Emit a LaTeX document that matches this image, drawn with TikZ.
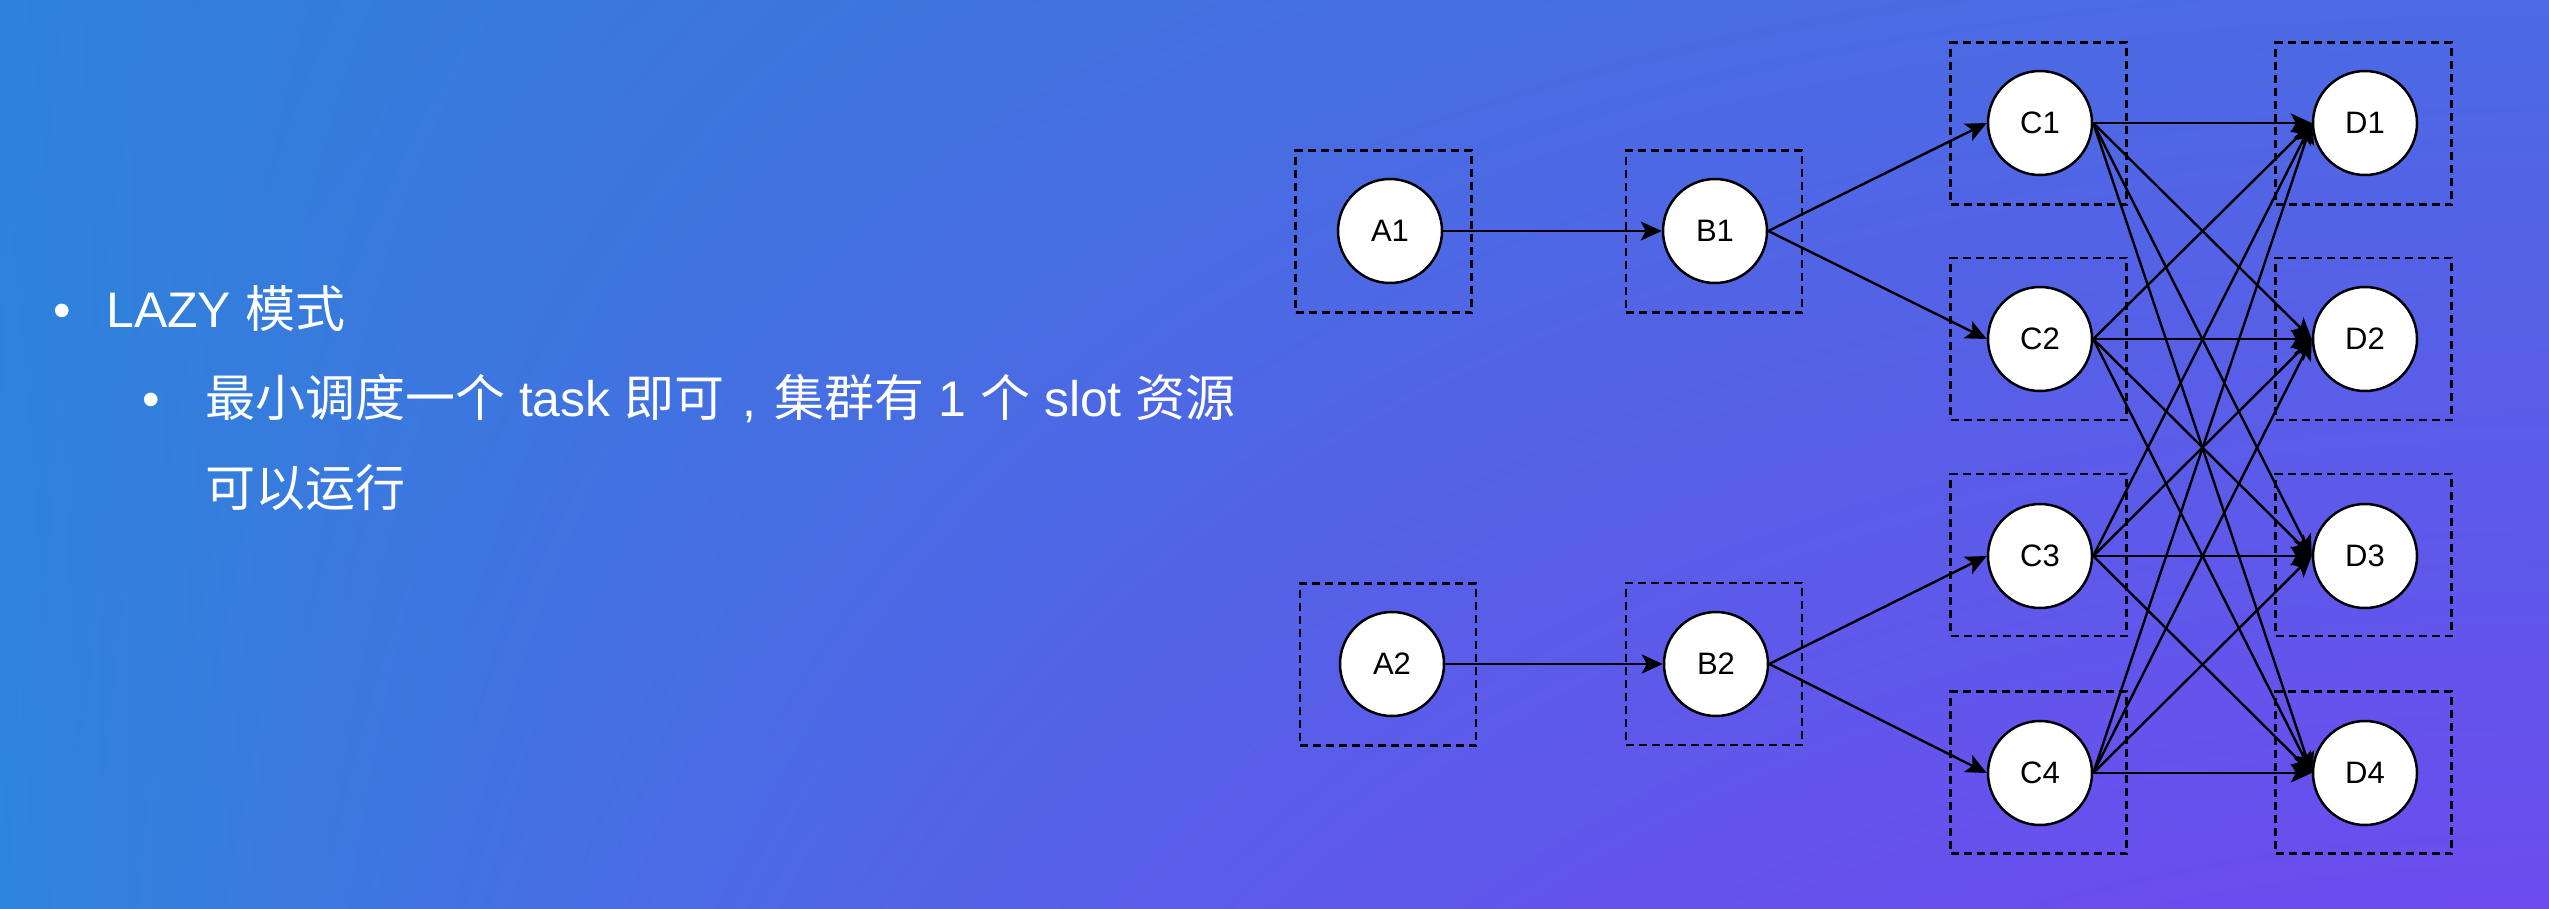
\documentclass[tikz,border=0pt]{standalone}
\usepackage{fontspec}
\setmainfont{Liberation Sans}
\newfontfamily\cjk{Noto Sans CJK SC}
\usetikzlibrary{arrows.meta}

\pgfdeclarefunctionalshading{bgshade}{\pgfpointorigin}{\pgfpoint{100bp}{100bp}}{}{
25 sub 50 div exch 25 sub 50 div
dup 2 exch sub mul
1 index 1 index -32 mul -1 add mul 1 index 62 mul add 46 add 255 div 3 1 roll
1 index 1 index 33 mul -3 add mul 1 index -57 mul add 133 add 255 div 3 1 roll
1 index 1 index -9 mul -3 add mul 1 index 19 mul add 220 add 255 div 3 1 roll
pop pop
}

\tikzset{
  task/.style={circle, draw=black, line width=2.5pt, fill=white, minimum size=104pt,
    inner sep=0pt, font=\fontsize{31}{33}\selectfont},
  slotbox/.style={draw=black, line width=2.5pt, dash pattern=on 8pt off 5pt,
    minimum width=176pt, minimum height=162pt, inner sep=0pt},
  edge/.style={line width=2.4pt, -{Stealth[length=21pt,width=19pt,inset=5pt]}},
  txt/.style={text=white, anchor=base west, inner sep=0pt, font=\fontsize{50}{60}\selectfont},
  bul/.style={text=white, anchor=base, inner sep=0pt, font=\fontsize{50}{60}\selectfont},
}

\begin{document}
\begin{tikzpicture}[x=1pt,y=-1pt]
\useasboundingbox (0,0) rectangle (2549,908);
\shade[shading=bgshade] (0,0) rectangle (2549,908);

% text
\node[bul] (b1) at (62,327) {•};
\node[txt] (t1) at (106,327) {LAZY {\cjk 模式}};
\node[bul] (b2) at (151,416) {•};
\node[txt] (t2) at (205,416) {{\cjk 最小调度一个} task {\cjk 即可}\hspace{0.36em},\hspace{0.36em}{\cjk 集群有} 1 {\cjk 个} slot {\cjk 资源}};
\node[txt] (t3) at (205,506) {{\cjk 可以运行}};

% slot boxes
\node[slotbox] (sA1) at (1383.5,231.5) {};
\node[slotbox] (sA2) at (1388,664.5) {};
\node[slotbox] (sB1) at (1714,231.5) {};
\node[slotbox] (sB2) at (1714,664) {};
\node[slotbox] (sC1) at (2038.5,123.5) {};
\node[slotbox] (sC2) at (2038.5,339) {};
\node[slotbox] (sC3) at (2038.5,555) {};
\node[slotbox] (sC4) at (2038.5,772.5) {};
\node[slotbox] (sD1) at (2363.5,123.5) {};
\node[slotbox] (sD2) at (2363.5,339) {};
\node[slotbox] (sD3) at (2363.5,555) {};
\node[slotbox] (sD4) at (2363.5,772.5) {};

% tasks
\node[task] (A1) at (1390,231) {A1};
\node[task] (A2) at (1392,664) {A2};
\node[task] (B1) at (1715,231) {B1};
\node[task] (B2) at (1716,664) {B2};
\node[task] (C1) at (2040,123) {C1};
\node[task] (C2) at (2040,339) {C2};
\node[task] (C3) at (2040,556) {C3};
\node[task] (C4) at (2040,773) {C4};
\node[task] (D1) at (2365,123) {D1};
\node[task] (D2) at (2365,339) {D2};
\node[task] (D3) at (2365,556) {D3};
\node[task] (D4) at (2365,773) {D4};

% edges
\draw[edge] (A1.east) -- (B1.west);
\draw[edge] (A2.east) -- (B2.west);
\draw[edge] (B1.east) -- (C1.west);
\draw[edge] (B1.east) -- (C2.west);
\draw[edge] (B2.east) -- (C3.west);
\draw[edge] (B2.east) -- (C4.west);
\foreach \i in {1,...,4}{
  \foreach \j in {1,...,4}{
    \draw[edge] (C\i.east) -- (D\j.west);
  }
}
\end{tikzpicture}
\end{document}
